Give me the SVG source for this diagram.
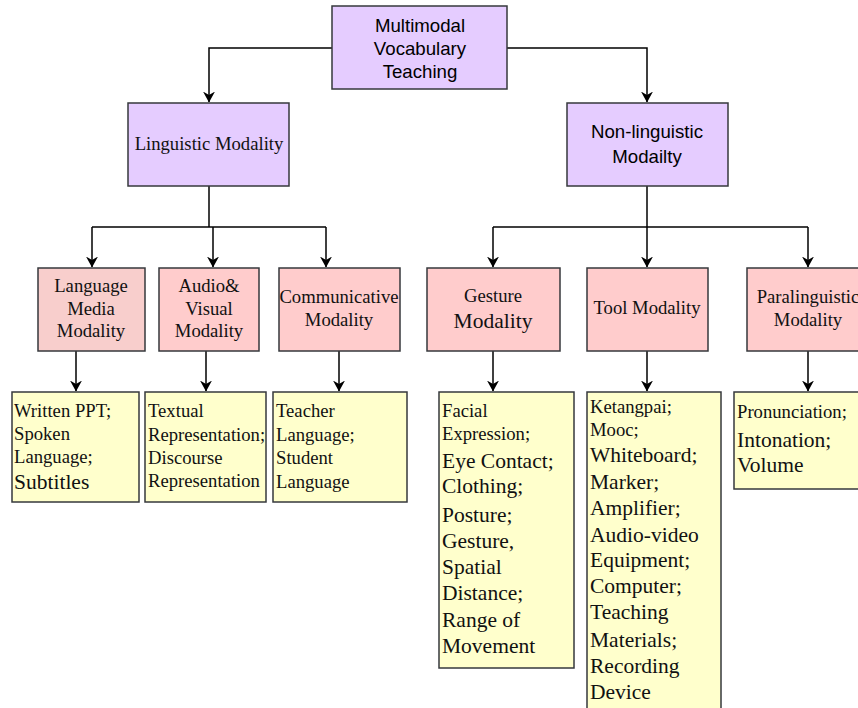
<svg xmlns="http://www.w3.org/2000/svg" width="858" height="708" viewBox="0 0 858 708">
<defs>
<marker id="ah" markerWidth="11" markerHeight="12" refX="10.5" refY="6" orient="auto" markerUnits="userSpaceOnUse" viewBox="0 0 11 12">
<path d="M0,0 L11,6 L0,12 L3.5,6 Z" fill="#000"/>
</marker>
</defs>
<style>
rect{stroke:#36393d;stroke-width:1.5}
.p{fill:#e5ccff}
.r{fill:#ffcccc}
.r2{fill:#f8cecc}
.y{fill:#ffffcc}
.a{font-family:"Liberation Sans",Arial,sans-serif;font-size:18.67px;fill:#000;text-anchor:middle}
.s{font-family:"Liberation Serif","Times New Roman",serif;font-size:18.67px;fill:#111;text-anchor:middle}
.l{font-family:"Liberation Serif","Times New Roman",serif;font-size:18.67px;fill:#111}
.big{font-size:21.5px}
.c path{fill:none;stroke:#000;stroke-width:1.5}
</style>
<g class="c" id="connectors">
<path d="M332,48 H209 V102" marker-end="url(#ah)"/>
<path d="M507,48 H647 V102" marker-end="url(#ah)"/>
<path d="M209,186 V227"/>
<path d="M92,227 H326"/>
<path d="M92,227 V267" marker-end="url(#ah)"/>
<path d="M213,227 V267" marker-end="url(#ah)"/>
<path d="M326,227 V267" marker-end="url(#ah)"/>
<path d="M647,186 V227"/>
<path d="M493,227 H808"/>
<path d="M493,227 V267" marker-end="url(#ah)"/>
<path d="M647,227 V267" marker-end="url(#ah)"/>
<path d="M808,227 V267" marker-end="url(#ah)"/>
<path d="M76,351 V391" marker-end="url(#ah)"/>
<path d="M206,351 V391" marker-end="url(#ah)"/>
<path d="M339,351 V391" marker-end="url(#ah)"/>
<path d="M493,351 V391" marker-end="url(#ah)"/>
<path d="M647,351 V391" marker-end="url(#ah)"/>
<path d="M808,351 V391" marker-end="url(#ah)"/>
</g>
<g id="root">
<rect class="p" x="332" y="6" width="175" height="83"/>
<text class="a" x="420" y="32">Multimodal</text>
<text class="a" x="420" y="55">Vocabulary</text>
<text class="a" x="420" y="78">Teaching</text>
</g>
<g id="linguistic">
<rect class="p" x="128" y="103" width="161" height="83"/>
<text class="s" x="209" y="150">Linguistic Modality</text>
</g>
<g id="nonlinguistic">
<rect class="p" x="567" y="103" width="161" height="83"/>
<text class="a" x="647" y="138">Non-linguistic</text>
<text class="a" x="647" y="163">Modailty</text>
</g>
<g id="languagemedia">
<rect class="r2" x="38" y="268" width="107" height="83"/>
<text class="s" x="91" y="292">Language</text>
<text class="s" x="91" y="315">Media</text>
<text class="s" x="91" y="337">Modality</text>
</g>
<g id="audiovisual">
<rect class="r" x="159" y="268" width="100" height="83"/>
<text class="s" x="209" y="292">Audio&amp;</text>
<text class="s" x="209" y="315">Visual</text>
<text class="s" x="209" y="337">Modality</text>
</g>
<g id="communicative">
<rect class="r" x="279" y="268" width="121" height="83"/>
<text class="s" x="339" y="303">Communicative</text>
<text class="s" x="339" y="326">Modality</text>
</g>
<g id="gesture">
<rect class="r" x="427" y="268" width="133" height="83"/>
<text class="s" x="493" y="302">Gesture</text>
<text class="s big" x="493" y="328">Modality</text>
</g>
<g id="tool">
<rect class="r" x="587" y="268" width="121" height="83"/>
<text class="s" x="647" y="314">Tool Modality</text>
</g>
<g id="paralinguistic">
<rect class="r" x="747" y="268" width="122" height="83"/>
<text class="s" x="808" y="303">Paralinguistic</text>
<text class="s" x="808" y="326">Modality</text>
</g>
<g id="list-language">
<rect class="y" x="12" y="392" width="127" height="110"/>
<text class="l" x="14" y="417">Written PPT;</text>
<text class="l" x="14" y="440">Spoken</text>
<text class="l" x="14" y="463">Language;</text>
<text class="l big" x="14" y="489">Subtitles</text>
</g>
<g id="list-audio">
<rect class="y" x="145" y="392" width="121" height="110"/>
<text class="l" x="148" y="417">Textual</text>
<text class="l" x="148" y="441">Representation;</text>
<text class="l" x="148" y="464">Discourse</text>
<text class="l" x="148" y="487">Representation</text>
</g>
<g id="list-communicative">
<rect class="y" x="273" y="392" width="134" height="110"/>
<text class="l" x="276" y="417">Teacher</text>
<text class="l" x="276" y="441">Language;</text>
<text class="l" x="276" y="464">Student</text>
<text class="l" x="276" y="488">Language</text>
</g>
<g id="list-gesture">
<rect class="y" x="439" y="392" width="135" height="276"/>
<text class="l" x="442" y="417">Facial</text>
<text class="l" x="442" y="440">Expression;</text>
<text class="l big" x="442" y="468">Eye Contact;</text>
<text class="l big" x="442" y="493">Clothing;</text>
<text class="l big" x="442" y="522">Posture;</text>
<text class="l big" x="442" y="548">Gesture,</text>
<text class="l big" x="442" y="574">Spatial</text>
<text class="l big" x="442" y="600">Distance;</text>
<text class="l big" x="442" y="627">Range of</text>
<text class="l big" x="442" y="653">Movement</text>
</g>
<g id="list-tool">
<rect class="y" x="587" y="392" width="134" height="330"/>
<text class="l" x="590" y="413">Ketangpai;</text>
<text class="l" x="590" y="436">Mooc;</text>
<text class="l big" x="590" y="462">Whiteboard;</text>
<text class="l big" x="590" y="489">Marker;</text>
<text class="l big" x="590" y="515">Amplifier;</text>
<text class="l big" x="590" y="542">Audio-video</text>
<text class="l big" x="590" y="567">Equipment;</text>
<text class="l big" x="590" y="593">Computer;</text>
<text class="l big" x="590" y="619">Teaching</text>
<text class="l big" x="590" y="647">Materials;</text>
<text class="l big" x="590" y="673">Recording</text>
<text class="l big" x="590" y="699">Device</text>
</g>
<g id="list-para">
<rect class="y" x="734" y="392" width="135" height="97"/>
<text class="l" x="737" y="418">Pronunciation;</text>
<text class="l big" x="737" y="447">Intonation;</text>
<text class="l big" x="737" y="472">Volume</text>
</g>
</svg>
